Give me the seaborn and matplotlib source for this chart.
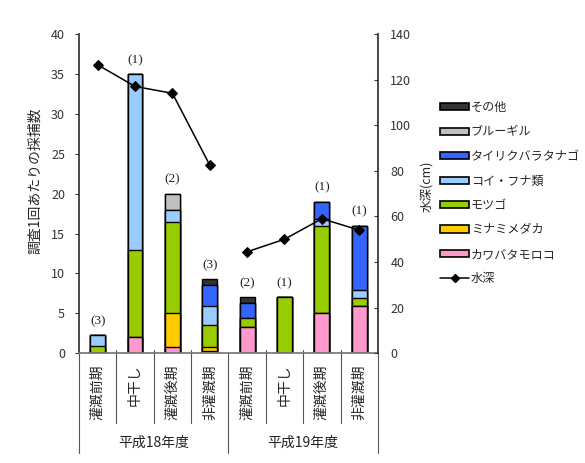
import numpy as np
import pandas as pd
import seaborn as sns
import matplotlib.pyplot as plt
from matplotlib.patches import Patch
from matplotlib.lines import Line2D
import matplotlib.transforms as mtransforms

# data
periods = ['灌漑前期', '中干し', '灌漑後期', '非灌漑期'] * 2
years = ['平成18年度'] * 4 + ['平成19年度'] * 4
year_names = ['平成18年度', '平成19年度']

kawabata = [0.0, 2.0, 0.8, 0.3, 3.3, 0.0, 5.0, 5.9]
minami = [0.0, 0.0, 4.2, 0.5, 0.0, 0.0, 0.0, 0.0]
motsugo = [0.9, 11.0, 11.4, 2.75, 1.15, 7.0, 10.9, 1.0]
koi = [1.4, 22.0, 1.5, 2.35, 0.0, 0.0, 0.9, 1.0]
tairiku = [0.0, 0.0, 0.0, 2.6, 1.9, 0.0, 2.2, 8.1]
bluegill = [0.0, 0.0, 2.1, 0.0, 0.0, 0.0, 0.0, 0.0]
sonota = [0.0, 0.0, 0.0, 0.8, 0.65, 0.0, 0.0, 0.0]

depth = [126.5, 117.0, 114.0, 82.5, 44.5, 50.0, 59.0, 54.0]
n_labels = ['(3)', '(1)', '(2)', '(3)', '(2)', '(1)', '(1)', '(1)']

species = ['カワバタモロコ', 'ミナミメダカ', 'モツゴ', 'コイ・フナ類',
           'タイリクバラタナゴ', 'ブルーギル', 'その他']
layers = [kawabata, minami, motsugo, koi, tairiku, bluegill, sonota]
colors = ['#FF99CC', '#FFCC00', '#99CC00', '#99CCFF', '#3366FF', '#C0C0C0', '#333333']

pos = np.arange(len(periods))
cum = np.cumsum(np.array(layers), axis=0)

sns.set_theme(style='white')
plt.rcParams['font.family'] = ['Noto Sans CJK JP', 'DejaVu Sans']

fig, ax = plt.subplots(figsize=(5.85, 4.63), dpi=100)
fig.subplots_adjust(left=0.135, right=0.646, bottom=0.237, top=0.9266)

# stacked bars: draw cumulative totals from the top layer down
for i in range(len(layers) - 1, -1, -1):
    sns.barplot(x=pos, y=cum[i], color=colors[i], saturation=1, width=0.4,
                edgecolor='black', linewidth=1.0, ax=ax)

totals = cum[-1]
for p, t, lab in zip(pos, totals, n_labels):
    ax.annotate(lab, (p, t), xytext=(0, 10), textcoords='offset points',
                ha='center', va='center', fontsize=9.5,
                family='Liberation Serif', color='#222222')

ax.set_ylim(0, 40)
ax.set_yticks(np.arange(0, 41, 5))
ax.set_xlim(-0.5, 7.5)
ax.set_xticks(pos)
ax.set_xticklabels(periods, rotation=90, fontsize=10)
ax.tick_params(axis='x', length=0, pad=8)
ax.tick_params(axis='y', direction='out', length=3, width=0.8, pad=7,
               labelsize=9, labelcolor='#333333', color='#333333')
ax.set_xlabel('')
ax.set_ylabel('調査1回あたりの採捕数', fontsize=10)
ax.yaxis.set_label_coords(-0.125, 0.54)
ax.spines['top'].set_visible(False)
ax.spines['right'].set_visible(False)
ax.spines['left'].set_color('#333333')
ax.spines['bottom'].set_color('#777777')

# water depth on the secondary axis
ax2 = ax.twinx()
depth_df = pd.DataFrame({'pos': pos, 'depth': depth, 'year': years})
sns.lineplot(data=depth_df, x='pos', y='depth', units='year', estimator=None,
             color='black', marker='D', markersize=5, markeredgecolor='black',
             linewidth=1.1, legend=False, ax=ax2)
ax2.set_ylim(0, 140)
ax2.set_yticks(np.arange(0, 141, 20))
ax2.set_xlim(-0.5, 7.5)
ax2.tick_params(axis='y', direction='in', length=3, width=0.8, pad=9,
                labelsize=9, labelcolor='#333333', color='#333333')
ax2.set_ylabel('水深(cm)', fontsize=9)
ax2.yaxis.set_label_coords(1.14, 0.524)
for s in ['top', 'left', 'bottom']:
    ax2.spines[s].set_visible(False)
ax2.spines['right'].set_color('#333333')

# category separators and year labels below the axis
trans = mtransforms.blended_transform_factory(ax.transData, ax.transAxes)
for x in [0.5, 1.5, 2.5, 4.5, 5.5, 6.5]:
    ax.plot([x, x], [0.01, -0.218], transform=trans, color='#555555',
            linewidth=0.8, clip_on=False)
for x in [-0.5, 3.5, 7.5]:
    ax.plot([x, x], [0.0, -0.312], transform=trans, color='#555555',
            linewidth=0.8, clip_on=False)
for k, yname in enumerate(year_names):
    ax.text(1.5 + 4 * k, -0.28, yname, transform=trans, ha='center',
            va='center', fontsize=10, color='#222222')

# legend
handles = [Patch(facecolor=colors[i], edgecolor='black', linewidth=1.2)
           for i in range(len(species) - 1, -1, -1)]
labels = species[::-1]
handles.append(Line2D([0], [0], color='black', marker='D', markersize=4,
                      linewidth=1.1))
labels.append('水深')
fig.legend(handles, labels, loc='upper left',
           bbox_to_anchor=(440 / 585, 1 - 101 / 463), frameon=False,
           fontsize=8.7, handlelength=2.4, handleheight=0.55,
           handletextpad=0.15, labelspacing=0.95, borderpad=0,
           borderaxespad=0)

fig.savefig('out.png', dpi=100)
